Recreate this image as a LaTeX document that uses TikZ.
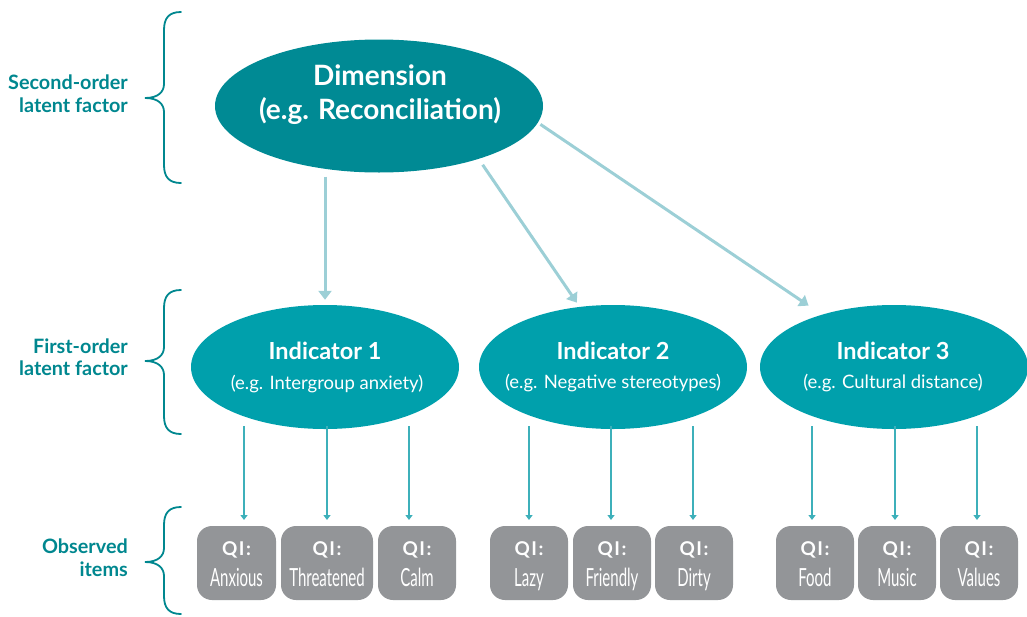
\documentclass[tikz,border=0pt]{standalone}
\usepackage{fontspec}
\setmainfont{Lato}
\newfontfamily\condfont[FakeStretch=0.6]{Lato}
\newfontfamily\qifont[LetterSpace=8]{Lato Bold}
\usetikzlibrary{shapes.geometric,arrows.meta}
\definecolor{dimteal}{HTML}{008A94}
\definecolor{indteal}{HTML}{00A0AC}
\definecolor{labteal}{HTML}{00878F}
\definecolor{bigarr}{HTML}{9CCFD6}
\definecolor{smallarr}{HTML}{3DB0BA}
\definecolor{boxgray}{HTML}{939598}
\tikzset{
  dimnode/.style={ellipse, fill=dimteal, inner sep=0pt, minimum width=328pt, minimum height=133pt},
  indnode/.style={ellipse, fill=indteal, inner sep=0pt, minimum width=268pt, minimum height=124pt},
  itembox/.style={rounded corners=15pt, fill=boxgray, inner sep=0pt, minimum height=74pt},
  dimtext/.style={text=white, inner sep=0pt, anchor=base, font=\bfseries\fontsize{28}{32}\selectfont},
  indtitle/.style={text=white, inner sep=0pt, anchor=base, font=\bfseries\fontsize{23.5}{27}\selectfont},
  indsub/.style={text=white, inner sep=0pt, anchor=base, font=\fontsize{18.5}{22}\selectfont},
  sidelabel/.style={text=labteal, inner sep=0pt, anchor=base east, font=\bfseries\fontsize{19.8}{23}\selectfont},
  qitext/.style={text=white, inner sep=0pt, anchor=base, font=\qifont\fontsize{19}{22}\selectfont},
  wordtext/.style={text=white, inner sep=0pt, anchor=base, font=\condfont\fontsize{25}{28}\selectfont},
  bigarrow/.style={draw=bigarr, line width=3pt, -{Triangle[width=13pt,length=9pt]}},
  smallarrow/.style={draw=smallarr, line width=1.8pt, -{Triangle[width=7pt,length=5pt]}},
  bracestyle/.style={draw=labteal, line width=1.8pt, line cap=round},
}
\newcommand\mybrace[3]{%
  \draw[bracestyle] (181,#1) .. controls (169,#1) and (164,{#1+6}) .. (164,{#1+18})
    -- (164,{#2-14}) .. controls (164,{#2-6}) and (158,#2) .. (145,#2)
    .. controls (158,#2) and (164,{#2+6}) .. (164,{#2+14})
    -- (164,{#3-18}) .. controls (164,{#3-6}) and (169,#3) .. (181,#3);}
\begin{document}
\begin{tikzpicture}[x=1pt,y=-1pt]
\useasboundingbox (0,0) rectangle (1027,616);

% braces
\mybrace{12}{98}{183}
\mybrace{290}{361}{434}
\mybrace{507}{562}{614}

% side labels
\node[sidelabel] (l1a) at (128,89) {Second-order};
\node[sidelabel] (l1b) at (128,112) {latent factor};
\node[sidelabel] (l2a) at (128,353) {First-order};
\node[sidelabel] (l2b) at (128,375) {latent factor};
\node[sidelabel] (l3a) at (128,553) {Observed};
\node[sidelabel] (l3b) at (128,576) {items};

% second-order factor
\node[dimnode] (dim) at (379,106) {};
\node[dimtext] (dimt) at (380,85) {Dimension};
\node[dimtext] (dims) at (380,119) {(e.g. Reconciliation)};

% first-order factors
\node[indnode] (ind1) at (325,367) {};
\node[indnode] (ind2) at (613,367) {};
\node[indnode] (ind3) at (894,367) {};
\node[indtitle] (ind1t) at (325,359) {Indicator 1};
\node[indsub] (ind1s) at (327,389) {(e.g. Intergroup anxiety)};
\node[indtitle] (ind2t) at (613,359) {Indicator 2};
\node[indsub] (ind2s) at (613,388) {(e.g. Negative stereotypes)};
\node[indtitle] (ind3t) at (893,359) {Indicator 3};
\node[indsub] (ind3s) at (893,388) {(e.g. Cultural distance)};

% big arrows
\draw[bigarrow, shorten <=4pt, shorten >=5pt] (dim.south -| ind1.north) -- (ind1.north);
\draw[bigarrow, shorten <=7pt, shorten >=5pt] (dim.-28) -- (ind2.119);
\draw[bigarrow, shorten <=3pt, shorten >=16pt] (dim.-6) -- (ind3.144);

% observed items
\foreach \nm/\x/\w/\word/\ax/\ind in {
  anx/236.5/79/Anxious/244/ind1, thr/327/92/Threatened/327/ind1, calm/417/78/Calm/409/ind1,
  lazy/529/78/Lazy/529/ind2, fri/612/78/Friendly/611/ind2, dir/694/78/Dirty/693/ind2,
  food/815/78/Food/812/ind3, mus/897/78/Music/895/ind3, val/979/78/Values/977/ind3}{
  \node[itembox, minimum width=\w pt] (\nm) at (\x,563) {};
  \node[qitext] (\nm-q) at (\x,555) {QI:};
  \node[wordtext] (\nm-w) at (\x,586) {\word};
  \coordinate (\nm-a) at (\ax,526);
  \draw[smallarrow, shorten <=-3pt, shorten >=6pt] (\nm-a |- \ind.south) -- (\nm-a);
}
\end{tikzpicture}
\end{document}
